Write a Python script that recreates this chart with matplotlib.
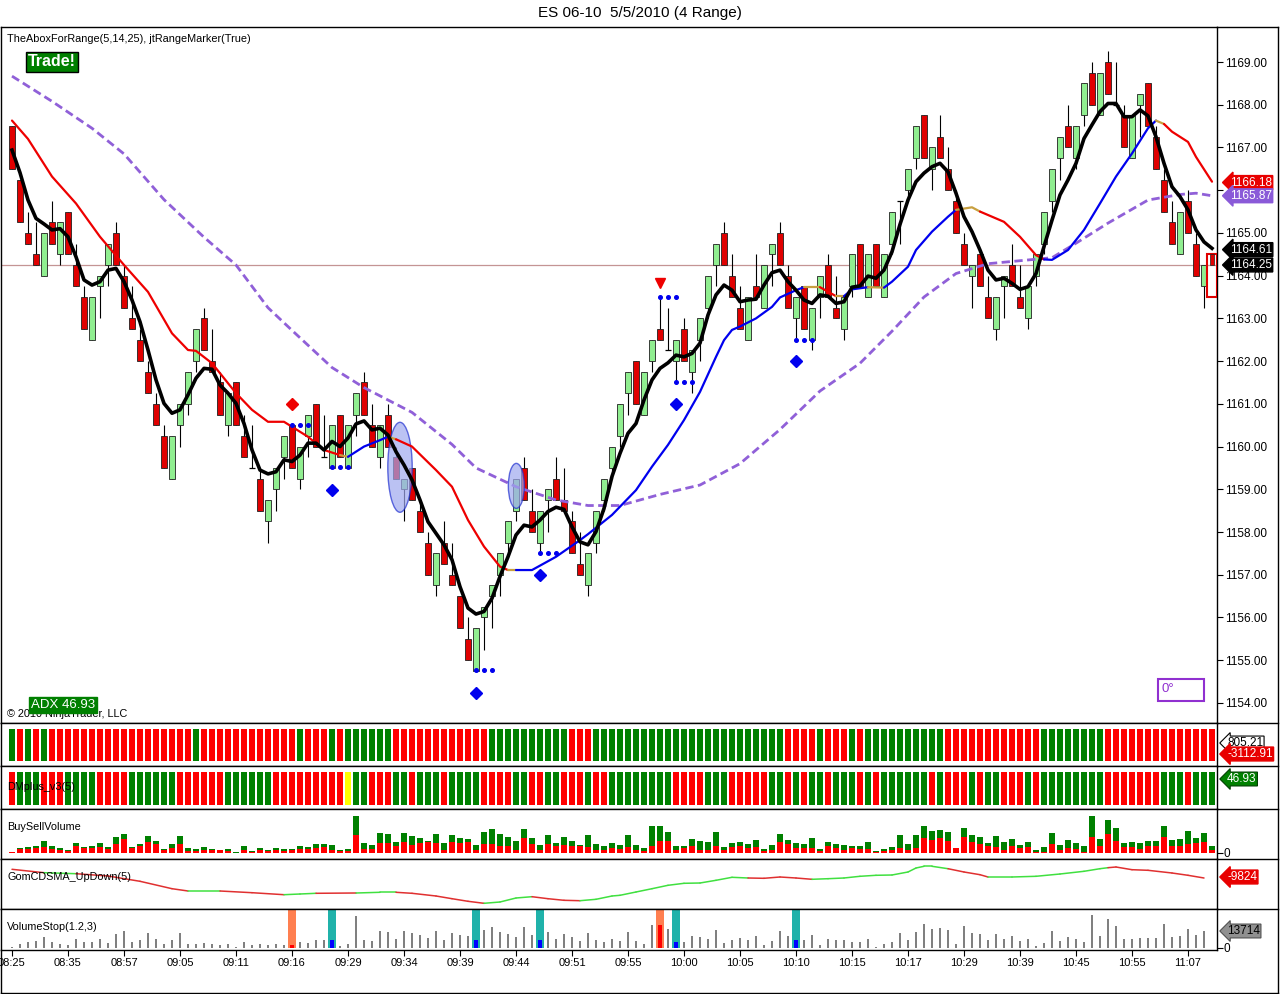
import matplotlib
matplotlib.use('Agg')
import matplotlib.pyplot as plt
from matplotlib.patches import Ellipse, Rectangle
from matplotlib.lines import Line2D

plt.rcParams['font.family'] = ['Liberation Sans', 'DejaVu Sans']

# ---- price data (4 range bars) ----
opens = [1167.5, 1166.25, 1165.0, 1164.5, 1164.0, 1165.25, 1164.5, 1165.5, 1164.25, 1163.5,
         1162.5, 1163.75, 1164.25, 1165.0, 1164.0, 1163.0, 1162.5, 1161.75, 1161.0, 1160.25,
         1159.25, 1160.5, 1161.0, 1162.0, 1163.0, 1162.0, 1161.5, 1160.5, 1161.5, 1160.25,
         1159.5, 1159.25, 1158.25, 1159.0, 1159.75, 1160.5, 1159.25, 1160.25, 1161.0, 1159.75,
         1159.5, 1160.75, 1159.5, 1160.75, 1161.5, 1160.5, 1159.75, 1160.75, 1159.75, 1159.0,
         1159.5, 1158.5, 1157.75, 1156.75, 1157.75, 1157.0, 1156.5, 1155.5, 1154.75, 1156.0,
         1156.5, 1157.0, 1157.75, 1158.5, 1159.5, 1158.5, 1157.75, 1158.75, 1159.25, 1158.75,
         1158.25, 1157.25, 1156.75, 1157.75, 1158.75, 1159.5, 1160.25, 1161.25, 1162.0, 1160.75,
         1162.0, 1162.75, 1162.25, 1162.0, 1162.75, 1161.75, 1162.5, 1163.25, 1164.25, 1165.0,
         1164.0, 1163.25, 1162.5, 1163.75, 1163.25, 1164.5, 1165.0, 1164.0, 1163.0, 1163.75,
         1162.5, 1163.5, 1164.25, 1163.25, 1162.75, 1163.75, 1164.75, 1163.5, 1164.75, 1163.5,
         1164.75, 1165.75, 1166.0, 1166.75, 1167.75, 1166.5, 1167.25, 1166.5, 1165.75, 1164.75,
         1164.0, 1164.5, 1163.5, 1162.75, 1163.75, 1164.25, 1163.5, 1163.0, 1164.0, 1164.75,
         1165.75, 1166.75, 1167.5, 1166.75, 1167.75, 1168.75, 1167.75, 1169.0, 1168.0, 1167.75,
         1166.75, 1168.0, 1168.5, 1167.25, 1166.25, 1165.25, 1164.5, 1165.75, 1164.75, 1163.75,
         1164.5]
highs = [1167.5, 1166.25, 1165.5, 1165.25, 1165.0, 1165.75, 1165.25, 1165.5, 1164.75, 1163.75,
         1163.5, 1164.0, 1164.75, 1165.25, 1164.25, 1163.75, 1162.75, 1162.0, 1161.25, 1160.5,
         1160.25, 1161.0, 1161.75, 1162.75, 1163.25, 1162.75, 1161.75, 1161.25, 1161.5, 1160.75,
         1160.5, 1159.5, 1158.75, 1159.5, 1160.25, 1160.5, 1160.0, 1160.75, 1161.0, 1160.75,
         1160.5, 1160.75, 1160.5, 1161.25, 1161.75, 1161.0, 1160.5, 1161.0, 1160.0, 1159.25,
         1159.5, 1158.75, 1158.0, 1157.5, 1158.25, 1157.75, 1156.5, 1156.0, 1155.75, 1156.25,
         1156.75, 1157.5, 1158.25, 1159.25, 1159.75, 1159.0, 1158.5, 1159.0, 1159.75, 1159.5,
         1158.5, 1158.0, 1157.5, 1158.5, 1159.25, 1160.0, 1161.0, 1161.75, 1162.0, 1161.75,
         1162.5, 1163.5, 1163.25, 1162.5, 1163.0, 1162.25, 1163.0, 1164.0, 1164.75, 1165.25,
         1164.5, 1163.75, 1163.5, 1164.5, 1164.25, 1164.75, 1165.25, 1164.25, 1163.5, 1163.75,
         1163.25, 1164.0, 1164.5, 1164.0, 1163.5, 1164.5, 1164.75, 1164.5, 1164.75, 1164.5,
         1165.5, 1165.75, 1166.5, 1167.5, 1167.75, 1167.0, 1167.75, 1167.0, 1166.0, 1165.0,
         1164.25, 1164.5, 1164.0, 1163.5, 1164.0, 1164.75, 1164.25, 1163.75, 1164.5, 1165.5,
         1166.5, 1167.25, 1168.0, 1167.5, 1168.5, 1169.0, 1168.75, 1169.25, 1169.0, 1168.0,
         1167.75, 1168.25, 1168.5, 1167.5, 1166.5, 1165.75, 1165.5, 1166.0, 1165.0, 1164.25,
         1164.5]
lows = [1166.5, 1165.25, 1164.75, 1164.25, 1164.0, 1164.75, 1164.25, 1164.5, 1163.75, 1162.75,
        1162.5, 1163.0, 1163.75, 1164.25, 1163.25, 1162.75, 1162.0, 1161.25, 1160.5, 1159.5,
        1159.25, 1160.0, 1160.75, 1161.75, 1162.25, 1161.75, 1160.75, 1160.25, 1160.5, 1159.75,
        1159.5, 1158.5, 1157.75, 1158.5, 1159.25, 1159.5, 1159.0, 1159.75, 1160.0, 1159.75,
        1159.5, 1159.75, 1159.5, 1160.25, 1160.75, 1160.0, 1159.5, 1160.0, 1159.25, 1158.25,
        1158.75, 1158.0, 1157.0, 1156.5, 1157.25, 1156.75, 1155.75, 1155.0, 1154.75, 1155.25,
        1155.75, 1156.5, 1157.5, 1158.25, 1158.75, 1158.0, 1157.5, 1158.0, 1158.75, 1158.5,
        1157.5, 1157.0, 1156.5, 1157.5, 1158.5, 1159.25, 1160.0, 1160.75, 1161.0, 1160.75,
        1161.75, 1162.5, 1162.25, 1161.5, 1162.0, 1161.25, 1162.0, 1163.0, 1163.75, 1164.25,
        1163.5, 1162.75, 1162.5, 1163.5, 1163.25, 1163.75, 1164.25, 1163.25, 1162.5, 1162.75,
        1162.25, 1163.0, 1163.5, 1163.0, 1162.5, 1163.5, 1163.75, 1163.5, 1163.75, 1163.5,
        1164.5, 1164.75, 1165.75, 1166.5, 1166.75, 1166.0, 1166.75, 1166.0, 1165.0, 1164.25,
        1163.25, 1163.75, 1163.0, 1162.5, 1163.0, 1163.75, 1163.25, 1162.75, 1163.75, 1164.5,
        1165.5, 1166.25, 1167.0, 1166.5, 1167.5, 1168.0, 1167.75, 1168.25, 1168.0, 1167.0,
        1166.75, 1167.25, 1167.5, 1166.5, 1165.5, 1164.75, 1164.5, 1165.0, 1164.0, 1163.25,
        1164.25]
closes = [1166.5, 1165.25, 1164.75, 1164.25, 1165.0, 1164.75, 1165.25, 1164.5, 1163.75, 1162.75,
          1163.5, 1164.0, 1164.75, 1164.25, 1163.25, 1162.75, 1162.0, 1161.25, 1160.5, 1159.5,
          1160.25, 1161.0, 1161.75, 1162.75, 1162.25, 1161.75, 1160.75, 1161.25, 1160.5, 1159.75,
          1159.5, 1158.5, 1158.75, 1159.5, 1160.25, 1159.5, 1160.0, 1160.75, 1160.0, 1159.75,
          1160.5, 1159.75, 1160.5, 1161.25, 1160.75, 1160.0, 1160.5, 1160.0, 1159.25, 1159.25,
          1158.75, 1158.0, 1157.0, 1157.5, 1157.25, 1156.75, 1155.75, 1155.0, 1155.75, 1156.25,
          1156.75, 1157.5, 1158.25, 1159.25, 1158.75, 1158.0, 1158.5, 1159.0, 1158.75, 1158.5,
          1157.5, 1157.0, 1157.5, 1158.5, 1159.25, 1160.0, 1161.0, 1161.75, 1161.0, 1161.75,
          1162.5, 1162.5, 1162.25, 1162.5, 1162.0, 1162.25, 1163.0, 1164.0, 1164.75, 1164.25,
          1163.5, 1162.75, 1163.5, 1163.5, 1164.25, 1164.75, 1164.25, 1163.25, 1163.5, 1162.75,
          1163.25, 1164.0, 1163.5, 1163.0, 1163.5, 1164.5, 1163.75, 1164.5, 1163.75, 1164.5,
          1165.5, 1165.75, 1166.5, 1167.5, 1166.75, 1167.0, 1166.75, 1166.0, 1165.0, 1164.25,
          1164.25, 1163.75, 1163.0, 1163.5, 1164.0, 1163.75, 1163.25, 1163.75, 1164.5, 1165.5,
          1166.5, 1167.25, 1167.0, 1167.5, 1168.5, 1168.0, 1168.75, 1168.25, 1168.0, 1167.0,
          1167.75, 1168.25, 1167.5, 1166.5, 1165.5, 1164.75, 1165.5, 1165.0, 1164.0, 1164.25,
          1164.25]

# fast average (black)
fast_ma = [1166.94, 1166.41, 1165.77, 1165.34, 1165.21, 1165.07, 1165.10, 1164.91, 1164.44, 1163.90,
           1163.78, 1163.86, 1164.13, 1164.17, 1163.86, 1163.43, 1162.92, 1162.26, 1161.56, 1161.01,
           1160.78, 1160.86, 1161.21, 1161.60, 1161.83, 1161.81, 1161.44, 1161.25, 1161.01, 1160.54,
           1159.92, 1159.45, 1159.36, 1159.41, 1159.69, 1159.65, 1159.80, 1160.08, 1160.08, 1159.92,
           1160.12, 1160.00, 1160.20, 1160.53, 1160.60, 1160.39, 1160.43, 1160.27, 1159.88, 1159.57,
           1159.22, 1158.75, 1158.24, 1157.97, 1157.70, 1157.35, 1156.72, 1156.22, 1156.08, 1156.14,
           1156.45, 1156.96, 1157.42, 1157.93, 1158.16, 1158.12, 1158.28, 1158.48, 1158.58, 1158.53,
           1158.12, 1157.77, 1157.70, 1158.01, 1158.55, 1159.30, 1159.84, 1160.31, 1160.54, 1161.09,
           1161.56, 1161.83, 1161.96, 1162.14, 1162.10, 1162.18, 1162.42, 1163.08, 1163.55, 1163.78,
           1163.66, 1163.39, 1163.43, 1163.45, 1163.78, 1164.07, 1164.13, 1163.86, 1163.66, 1163.43,
           1163.35, 1163.55, 1163.52, 1163.35, 1163.39, 1163.73, 1163.76, 1163.99, 1163.94, 1164.13,
           1164.56, 1165.20, 1165.77, 1166.20, 1166.40, 1166.55, 1166.63, 1166.43, 1165.93, 1165.38,
           1165.03, 1164.60, 1164.13, 1163.90, 1163.94, 1163.82, 1163.68, 1163.74, 1164.05, 1164.68,
           1165.30, 1165.89, 1166.24, 1166.63, 1167.21, 1167.53, 1167.84, 1168.03, 1168.03, 1167.72,
           1167.72, 1167.88, 1167.74, 1167.25, 1166.63, 1166.08, 1165.85, 1165.54, 1165.07, 1164.79,
           1164.64]

# 14 average (slope coloured)
mid_bars = [0, 2, 5, 8, 11, 14, 17, 20, 22, 23, 25, 28, 30, 32, 34, 37, 39, 41, 42, 44,
            46, 47, 48, 50, 53, 55, 57, 59, 61, 62, 63, 65, 68, 71, 72, 75, 78, 80, 82, 84,
            86, 88, 89, 90, 91, 93, 95, 96, 98, 99, 101, 103, 104, 105, 107, 109, 110, 112, 113, 115,
            117, 118, 120, 121, 124, 126, 128, 129, 130, 132, 134, 136, 138, 140, 142, 143, 144, 145, 147, 148,
            150]
mid_ma = [1167.63, 1167.20, 1166.32, 1165.69, 1164.91, 1164.25, 1163.62, 1162.65, 1162.26, 1162.24,
          1161.95, 1161.25, 1160.86, 1160.58, 1160.58, 1160.23, 1159.92, 1159.80, 1159.76, 1160.00,
          1160.15, 1160.23, 1160.17, 1160.00, 1159.45, 1159.06, 1158.28, 1157.66, 1157.19, 1157.11,
          1157.11, 1157.11, 1157.42, 1157.81, 1157.95, 1158.40, 1158.98, 1159.53, 1160.04, 1160.62,
          1161.28, 1162.10, 1162.49, 1162.73, 1162.81, 1163.00, 1163.27, 1163.49, 1163.66, 1163.73,
          1163.73, 1163.52, 1163.52, 1163.68, 1163.73, 1163.72, 1163.86, 1164.21, 1164.60, 1165.03,
          1165.38, 1165.54, 1165.60, 1165.50, 1165.26, 1164.91, 1164.48, 1164.38, 1164.37, 1164.60,
          1165.07, 1165.69, 1166.32, 1166.86, 1167.45, 1167.63, 1167.55, 1167.37, 1167.13, 1166.78,
          1166.20]
mid_trend = [(0, 41, 'dn'), (41, 42, 'flat'), (42, 47, 'up'), (47, 48, 'flat'), (48, 62, 'dn'),
             (62, 63, 'flat'), (63, 99, 'up'), (99, 101, 'flat'), (101, 103, 'dn'), (103, 104, 'flat'),
             (104, 107, 'up'), (107, 109, 'flat'), (109, 118, 'up'), (118, 121, 'flat'), (121, 129, 'dn'),
             (129, 143, 'up'), (143, 144, 'flat'), (144, 150, 'dn')]

# 25 average (purple dashed)
slow_bars = [0, 5, 10, 14, 19, 24, 28, 32, 35, 40, 44, 50, 55, 58, 63, 68, 72, 76, 81, 86,
             91, 96, 101, 106, 110, 114, 118, 122, 126, 130, 133, 137, 142, 146, 148, 150]
slow_ma = [1168.67, 1168.08, 1167.45, 1166.85, 1165.78, 1164.90, 1164.25, 1163.25, 1162.72, 1161.85,
           1161.38, 1160.80, 1160.05, 1159.50, 1159.06, 1158.75, 1158.62, 1158.62, 1158.88, 1159.10,
           1159.60, 1160.40, 1161.30, 1161.95, 1162.70, 1163.50, 1164.05, 1164.28, 1164.35, 1164.42,
           1164.76, 1165.23, 1165.77, 1165.90, 1165.93, 1165.87]

# range marker signals
dot_bars = [35, 40, 58, 66, 81, 83, 98]
dot_prices = [1160.5, 1159.52, 1154.77, 1157.51, 1163.5, 1161.51, 1162.49]
up_diamond_bars = [40, 58, 66, 83, 98]
up_diamond_prices = [1158.98, 1154.23, 1157.0, 1161.0, 1162.0]
dn_diamond_bar, dn_diamond_price = 35, 1161.0
dn_tri_bar, dn_tri_price = 81, 1163.83

# lower panels
adx_runs = [('G', 1), ('R', 1), ('G', 1), ('R', 1), ('G', 1), ('R', 18), ('G', 1), ('R', 12), ('G', 1), ('R', 3),
            ('G', 1), ('R', 1), ('G', 6), ('R', 12), ('G', 10), ('R', 3), ('G', 24), ('R', 4), ('G', 1), ('R', 3),
            ('G', 1), ('R', 1), ('G', 10), ('R', 12), ('G', 8), ('R', 14)]
dm_runs = [('R', 1), ('G', 3), ('R', 3), ('G', 4), ('R', 4), ('G', 6), ('R', 6), ('G', 6), ('R', 9), ('Y', 1),
           ('G', 2), ('R', 3), ('G', 2), ('R', 1), ('G', 3), ('R', 1), ('G', 4), ('R', 4), ('G', 2), ('R', 2),
           ('G', 2), ('R', 3), ('G', 1), ('R', 2), ('G', 8), ('R', 4), ('G', 3), ('R', 5), ('G', 2), ('R', 1),
           ('G', 1), ('R', 1), ('G', 2), ('R', 1), ('G', 3), ('R', 1), ('G', 1), ('R', 1), ('G', 6), ('R', 1),
           ('G', 1), ('R', 3), ('G', 1), ('R', 1), ('G', 2), ('R', 3), ('G', 1), ('R', 1), ('G', 8), ('R', 7),
           ('G', 3), ('R', 1), ('G', 3)]

bsv_total = [2, 14, 17, 20, 35, 20, 14, 8, 29, 17, 20, 29, 17, 47, 56, 17, 26, 50, 35, 11,
             26, 50, 14, 11, 17, 11, 8, 11, 2, 20, 5, 14, 8, 14, 11, 11, 20, 17, 26, 26,
             23, 8, 11, 110, 29, 23, 59, 56, 32, 59, 50, 44, 35, 56, 29, 53, 44, 41, 23, 62,
             71, 56, 47, 35, 71, 44, 23, 53, 29, 47, 35, 23, 53, 26, 20, 29, 23, 53, 23, 14,
             80, 80, 62, 20, 20, 41, 35, 32, 62, 17, 29, 32, 26, 38, 11, 23, 56, 38, 29, 26,
             44, 11, 32, 26, 23, 20, 20, 32, 5, 11, 17, 53, 26, 53, 80, 65, 68, 62, 14, 74,
             53, 47, 29, 50, 32, 41, 23, 32, 8, 17, 59, 23, 38, 29, 20, 110, 41, 98, 74, 29,
             32, 29, 35, 35, 80, 38, 41, 65, 44, 59, 20]
bsv_sell = [2, 10, 12, 14, 17, 12, 8, 4, 20, 14, 14, 17, 10, 26, 40, 14, 20, 32, 26, 8,
            14, 26, 5, 5, 8, 8, 8, 5, 0, 8, 2, 8, 5, 8, 5, 8, 11, 11, 14, 17,
            8, 5, 5, 52, 11, 11, 29, 29, 20, 32, 23, 29, 32, 29, 8, 32, 29, 32, 8, 26,
            26, 20, 20, 8, 44, 26, 8, 26, 20, 23, 20, 20, 17, 8, 8, 14, 11, 17, 8, 5,
            20, 35, 35, 8, 14, 20, 8, 8, 20, 8, 17, 20, 14, 17, 5, 8, 32, 26, 14, 14,
            14, 5, 20, 14, 8, 14, 11, 11, 2, 5, 8, 14, 8, 14, 44, 38, 44, 35, 14, 47,
            32, 26, 20, 17, 8, 20, 14, 17, 2, 2, 26, 8, 14, 11, 2, 47, 20, 56, 35, 17,
            17, 11, 20, 20, 47, 20, 20, 26, 29, 32, 8]

gom_bars = [0, 4, 8, 12, 16, 20, 22, 26, 30, 34, 36, 38, 43, 46, 48, 50, 53, 55, 57, 59,
            61, 63, 65, 67, 69, 71, 73, 75, 76, 78, 80, 82, 84, 86, 88, 90, 92, 94, 96, 98,
            100, 102, 104, 106, 108, 110, 112, 113, 114, 115, 117, 119, 121, 122, 125, 128, 131, 134, 136, 137,
            138, 140, 142, 145, 147, 149]
gom_vals = [-7649, -8499, -8749, -9324, -10649, -12499, -13074, -13074, -13499, -13999,
            -13824, -13649, -13574, -13399, -13399, -13649, -14324, -14999, -15649, -16149,
            -15824, -14824, -14499, -14999, -15399, -15499, -15149, -14324, -14149, -13324,
            -12499, -11649, -11149, -11074, -10399, -9649, -9824, -9899, -9574, -9824,
            -10149, -9999, -9824, -9399, -9149, -9074, -8324, -7324, -6899, -6899,
            -7499, -8324, -8999, -9574, -9574, -9399, -8824, -8149, -7499, -7249,
            -7074, -7749, -7899, -8574, -9149, -9824]
gom_up_ranges = [(4, 7), (22, 25), (34, 40), (43, 47), (59, 64), (72, 83), (85, 91), (100, 116), (122, 137)]

vstop = [3, 13, 18, 20, 33, 18, 13, 8, 28, 18, 18, 26, 15, 43, 50, 18, 23, 46, 28, 12,
         23, 46, 12, 12, 15, 12, 10, 12, 4, 18, 8, 12, 10, 12, 10, 10, 18, 15, 23, 23,
         23, 6, 12, 96, 23, 21, 51, 48, 26, 51, 45, 40, 30, 51, 23, 45, 38, 36, 23, 54,
         63, 48, 42, 33, 63, 40, 23, 48, 26, 42, 33, 20, 45, 23, 18, 26, 21, 48, 21, 12,
         69, 69, 57, 18, 18, 36, 33, 27, 54, 15, 23, 30, 23, 36, 9, 21, 51, 36, 23, 24,
         39, 9, 27, 24, 23, 18, 18, 27, 3, 11, 18, 45, 24, 48, 72, 57, 60, 54, 12, 66,
         45, 42, 24, 42, 27, 36, 21, 27, 6, 15, 51, 21, 33, 27, 18, 99, 36, 87, 66, 27,
         27, 30, 30, 30, 72, 33, 36, 57, 39, 51]
vstop_sig_bars = [35, 40, 58, 66, 81, 83, 98]
vstop_sig_kind = ['sell', 'buy', 'buy', 'buy', 'sell', 'buy', 'buy']

time_labels = ['08:25', '08:35', '08:57', '09:05', '09:11', '09:16', '09:29', '09:34', '09:39', '09:44',
               '09:51', '09:55', '10:00', '10:05', '10:10', '10:15', '10:17', '10:29', '10:39', '10:45',
               '10:55', '11:07']

W, H = 1280, 994
n = len(closes)
xlo, xhi = -1.375, 150.625


def add_px_axes(y0, y1, x0=1, x1=1217):
    a = fig.add_axes([x0 / W, 1 - y1 / H, (x1 - x0) / W, (y1 - y0) / H])
    a.set_xlim(xlo, xhi)
    a.set_xticks([])
    a.set_yticks([])
    for s in a.spines.values():
        s.set_linewidth(1.0)
    return a


def ftext(x, y, s, **kw):
    return fig.text(x / W, 1 - y / H, s, **kw)


def expand(runs):
    out = []
    for c, k in runs:
        out += [c] * k
    return out


fig = plt.figure(figsize=(12.8, 9.94), dpi=100)
fig.patch.set_facecolor('white')

ftext(640, 13, 'ES 06-10  5/5/2010 (4 Range)', ha='center', va='center', fontsize=11)

# ---------------- main price panel ----------------
ax = add_px_axes(27, 723)
ax.set_ylim(1153.53, 1169.82)
ax.set_yticks(range(1154, 1170))
# 1166.00 sits under the price tags, as in the original
ax.set_yticklabels(['' if v == 1166 else '%.2f' % v for v in range(1154, 1170)])
ax.tick_params(axis='y', left=False, right=True, labelleft=False, labelright=True,
               length=4, pad=2, labelsize=8.5)

ax.axhline(1164.25, color='#c49494', lw=0.9, zorder=1)

for i in range(n - 1):
    o, h, l, c = opens[i], highs[i], lows[i], closes[i]
    ax.vlines(i, l, h, color='black', lw=0.8, zorder=2)
    if o == c:
        ax.hlines(o, i - 0.35, i + 0.35, color='black', lw=0.9, zorder=3)
    else:
        fc = '#90ee90' if c > o else '#e00000'
        ax.bar(i, abs(c - o), bottom=min(o, c), width=0.7, color=fc,
               edgecolor='#202020', linewidth=0.6, zorder=3)

# current bar with range box
ax.add_patch(Rectangle((n - 1 - 0.6, 1163.5), 1.2, 1.0, fill=False, ec='#e00000', lw=1.5, zorder=3))
ax.bar(n - 1, opens[-1] - closes[-1], bottom=closes[-1], width=0.45, color='#e00000',
       edgecolor='#202020', linewidth=0.5, zorder=3)

# moving averages
ax.plot(slow_bars, slow_ma, color='#9060d8', lw=2.0, ls=(0, (3, 1.6)), zorder=4)
trend_col = {'dn': '#ee0000', 'up': '#0000ee', 'flat': '#c8a040'}
for a, b, t in mid_trend:
    xs = [x for x in mid_bars if a <= x <= b]
    ys = [mid_ma[mid_bars.index(x)] for x in xs]
    ax.plot(xs, ys, color=trend_col[t], lw=1.6, zorder=5, solid_capstyle='round')
ax.plot(range(n), fast_ma, color='black', lw=2.6, zorder=6, solid_joinstyle='round')

# range marker signals
for b, p in zip(dot_bars, dot_prices):
    ax.plot([b, b + 1, b + 2], [p, p, p], ls='none', marker='o', ms=2.6, color='#0000ee', zorder=7)
ax.plot(up_diamond_bars, up_diamond_prices, ls='none', marker='D', ms=6, color='#0000ee', zorder=7)
ax.plot([dn_diamond_bar], [dn_diamond_price], ls='none', marker='D', ms=6, color='#ee0000', zorder=7)
ax.plot([dn_tri_bar], [dn_tri_price], ls='none', marker='v', ms=7, color='#ee0000', zorder=7)

ax.add_patch(Ellipse((48.5, 1159.515), 3.05, 2.106, fc='#9fa8ee', ec='#2030d0', alpha=0.7, lw=1, zorder=4))
ax.add_patch(Ellipse((63.04, 1159.08), 2.0, 1.053, fc='#9fa8ee', ec='#2030d0', alpha=0.7, lw=1, zorder=4))

# price tags
tag_vals = [1166.18, 1165.87, 1164.61, 1164.25]
tag_cols = ['#e80000', '#8a5ad8', 'black', 'black']
for v, col in zip(tag_vals, tag_cols):
    ax.text(1.0105, v, '%.2f' % v, transform=ax.get_yaxis_transform(), color='white', fontsize=8.5,
            va='center', ha='left', clip_on=False, zorder=10,
            bbox=dict(boxstyle='larrow,pad=0.08', fc=col, ec=col))

ftext(7, 39, 'TheAboxForRange(5,14,25), jtRangeMarker(True)', fontsize=7.8, va='center')
ftext(28, 62, 'Trade!', fontsize=11.5, color='white', weight='bold', va='center',
      bbox=dict(boxstyle='square,pad=0.15', fc='#008000', ec='black', lw=1))
ftext(7, 714, '\u00a9 2010 NinjaTrader, LLC', fontsize=7.8, va='center')
ftext(31, 705, 'ADX 46.93', fontsize=9.5, color='white', va='center',
      bbox=dict(boxstyle='square,pad=0.12', fc='#008000', ec='#008000'))
fig.add_artist(Rectangle((1158 / W, 1 - 701 / H), 46 / W, 22 / H, transform=fig.transFigure,
                         fill=False, ec='#9030d0', lw=1.5))
ftext(1161, 689, '0\u00b0', fontsize=9.5, color='#9030d0', va='center')

# ---------------- strip 1 ----------------
cmap = {'G': '#008000', 'R': '#ff0000', 'Y': '#ffff00'}
s1 = add_px_axes(723, 766)
s1.set_ylim(0, 1)
s1.bar(range(n), 0.76, bottom=0.11, width=0.86, color=[cmap[c] for c in expand(adx_runs)])
ftext(1227, 743, '805.21', fontsize=8.5, va='center',
      bbox=dict(boxstyle='larrow,pad=0.08', fc='white', ec='black', lw=0.8))
ftext(1227, 754, '-3112.91', fontsize=8.5, va='center', color='white',
      bbox=dict(boxstyle='larrow,pad=0.08', fc='#e80000', ec='#e80000'))

# ---------------- strip 2 (DMplus) ----------------
s2 = add_px_axes(766, 809)
s2.set_ylim(0, 1)
s2.bar(range(n), 0.76, bottom=0.1, width=0.86, color=[cmap[c] for c in expand(dm_runs)])
s2.text(0.005, 0.5, 'DMplus_v3(5)', transform=s2.transAxes, fontsize=7.8, va='center')
ftext(1227, 779, '46.93', fontsize=8.5, va='center', color='white',
      bbox=dict(boxstyle='larrow,pad=0.08', fc='#008000', ec='#004000', lw=0.8))

# ---------------- BuySellVolume ----------------
bv = add_px_axes(809, 859)
bv.set_ylim(-19, 131)
buys = [t - s for t, s in zip(bsv_total, bsv_sell)]
bv.bar(range(n), bsv_sell, width=0.86, color='#ff0000')
bv.bar(range(n), buys, bottom=bsv_sell, width=0.86, color='#008000')
bv.set_yticks([0])
bv.set_yticklabels(['0'])
bv.tick_params(axis='y', left=False, right=True, labelleft=False, labelright=True,
               length=4, pad=1, labelsize=8.5)
bv.text(0.005, 0.64, 'BuySellVolume', transform=bv.transAxes, fontsize=7.8, va='center')

# ---------------- GomCDSMA ----------------
gm = add_px_axes(859, 909)
gm.set_ylim(-17574, -5074)
for k in range(len(gom_bars) - 1):
    a, b = gom_bars[k], gom_bars[k + 1]
    mid = (a + b) / 2
    up = any(lo <= mid <= hi for lo, hi in gom_up_ranges)
    gm.plot([a, b], [gom_vals[k], gom_vals[k + 1]], color='#40e040' if up else '#e03030', lw=1.1,
            solid_capstyle='round')
gm.text(0.005, 0.64, 'GomCDSMA_UpDown(5)', transform=gm.transAxes, fontsize=7.8, va='center')
ftext(1227, 877, '-9824', fontsize=8.5, va='center', color='white',
      bbox=dict(boxstyle='larrow,pad=0.08', fc='#e80000', ec='#e80000'))

# ---------------- VolumeStop ----------------
vs = add_px_axes(909, 950)
vs.set_ylim(-6, 117)
grey_x = [i for i in range(len(vstop)) if i not in vstop_sig_bars]
vs.bar(grey_x, [vstop[i] for i in grey_x], width=0.32, color='#808080')
for b, kind in zip(vstop_sig_bars, vstop_sig_kind):
    outer = '#ff7f50' if kind == 'sell' else '#20b2aa'
    inner = '#ff0000' if kind == 'sell' else '#0000ff'
    vs.bar(b, 117, width=0.95, color=outer)
    vs.bar(b, vstop[b], width=0.6, color=inner)
vs.set_yticks([0])
vs.set_yticklabels(['0'])
vs.tick_params(axis='y', left=False, right=True, labelleft=False, labelright=True,
               length=4, pad=1, labelsize=8.5)
vs.set_xticks(range(0, n, 7))
vs.set_xticklabels(time_labels)
vs.tick_params(axis='x', bottom=True, length=4, pad=2, labelsize=8)
vs.text(0.005, 0.55, 'VolumeStop(1.2,3)', transform=vs.transAxes, fontsize=7.8, va='center')
ftext(1227, 931, '13714', fontsize=8.5, va='center', color='black',
      bbox=dict(boxstyle='larrow,pad=0.08', fc='#909090', ec='#505050', lw=0.8))

# outer frame and right column separators
for y in [27, 723, 766, 809, 859, 909]:
    fig.add_artist(Line2D([1217 / W, 1278 / W], [1 - y / H, 1 - y / H], transform=fig.transFigure,
                          color='black', lw=1))
fig.add_artist(Line2D([1278 / W, 1278 / W], [1 - 27 / H, 1 - 993 / H], transform=fig.transFigure,
                      color='black', lw=1))
fig.add_artist(Line2D([1 / W, 1278 / W], [1 - 993 / H, 1 - 993 / H], transform=fig.transFigure,
                      color='black', lw=1))
fig.add_artist(Line2D([1 / W, 1 / W], [1 - 950 / H, 1 - 993 / H], transform=fig.transFigure,
                      color='black', lw=1))

fig.savefig('out.png', dpi=100)
